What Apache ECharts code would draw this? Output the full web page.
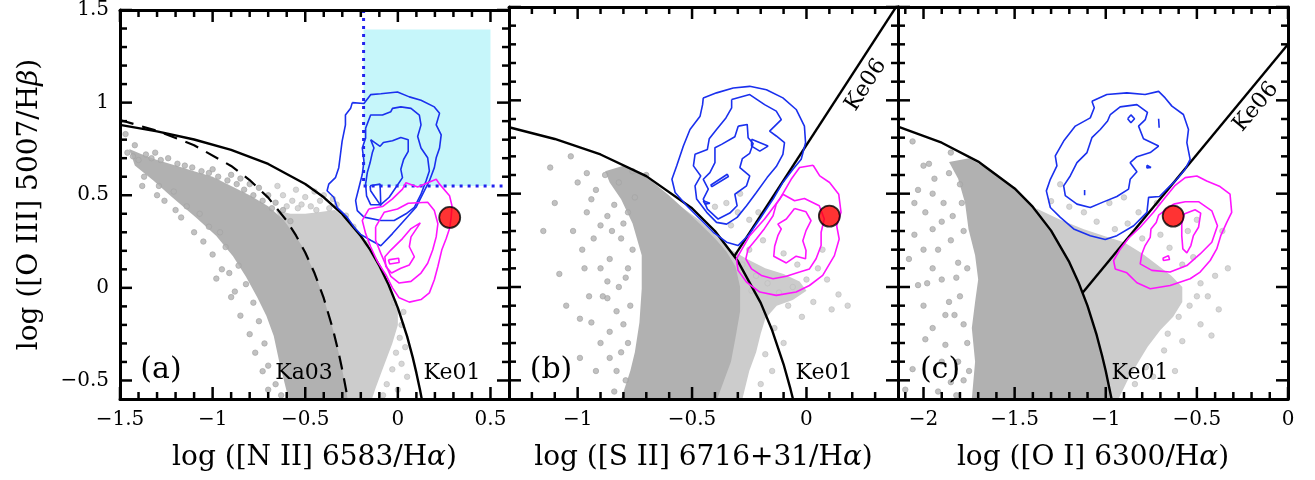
<!DOCTYPE html>
<html>
<head>
<meta charset="utf-8">
<script src="https://cdn.jsdelivr.net/npm/echarts@6/dist/echarts.min.js"></script>
<style>
html,body{margin:0;padding:0;background:#fff;}
#chart{width:1315px;height:480px;}
</style>
</head>
<body>
<div id="chart"></div>
<script>
// ---- axes ----
var xRangeA = [-1.5, 0.6], xRangeB = [-1.3, 0.4], xRangeC = [-2.14, 0];
var yRange = [-0.6, 1.5];
var xTicksA = [-1.5, -1, -0.5, 0, 0.5];
var xTicksB = [-1, -0.5, 0];
var xTicksC = [-2, -1.5, -1, -0.5, 0];
var yTicks = [-0.5, 0, 0.5, 1, 1.5];

// ---- demarcation lines ----
var ke01A = [[-1.5,0.880],[-1.3,0.845],[-1.1,0.801],[-0.9,0.745],[-0.7,0.669],[-0.5,0.561],[-0.4,0.489],[-0.3,0.398],[-0.2,0.280],[-0.15,0.206],[-0.1,0.120],[-0.05,0.017],[0.0,-0.108],[0.05,-0.262],[0.08,-0.374],[0.1,-0.459],[0.12,-0.553],[0.129,-0.6]];
var ka03A = [[-1.5,0.906],[-1.3,0.848],[-1.1,0.770],[-0.9,0.658],[-0.8,0.582],[-0.7,0.487],[-0.6,0.362],[-0.55,0.283],[-0.5,0.191],[-0.45,0.080],[-0.4,-0.056],[-0.35,-0.225],[-0.32,-0.349],[-0.3,-0.443],[-0.28,-0.548],[-0.271,-0.6]];
var ke01B = [[-1.3,0.856],[-1.1,0.793],[-0.9,0.710],[-0.7,0.594],[-0.5,0.422],[-0.4,0.300],[-0.3,0.139],[-0.2,-0.085],[-0.15,-0.232],[-0.1,-0.414],[-0.07,-0.546],[-0.059,-0.6]];
var ke06B = [[-0.315,0.165],[0.4,1.516]];
var ke01C = [[-2.14,0.859],[-1.9,0.773],[-1.7,0.672],[-1.5,0.528],[-1.4,0.429],[-1.3,0.302],[-1.2,0.133],[-1.15,0.026],[-1.1,-0.101],[-1.05,-0.257],[-1.02,-0.368],[-1.0,-0.450],[-0.968,-0.6]];
var ke06C = [[-1.126,-0.029],[0,1.30]];

// ---- selection box in (a) ----
var boxA = [[-0.185,0.55],[0.5,0.55],[0.5,1.395],[-0.185,1.395]];
var guideA = [[-0.185,1.5],[-0.185,0.55],[0.565,0.55]];

// ---- the galaxy of interest ----
var redA = [[0.28,0.38]], redB = [[0.10,0.38]], redC = [[-0.63,0.38]];

// ---- dense parent-sample regions ----
var darkA = [[-1.45,0.75],[-1.38,0.72],[-1.30,0.69],[-1.20,0.66],[-1.10,0.63],[-1.00,0.60],[-0.90,0.55],[-0.80,0.50],[-0.70,0.44],[-0.62,0.37],[-0.56,0.29],[-0.52,0.23],[-0.5,0.191],[-0.45,0.080],[-0.4,-0.056],[-0.35,-0.225],[-0.32,-0.349],[-0.3,-0.443],[-0.28,-0.548],[-0.271,-0.6],[-0.59,-0.6],[-0.62,-0.48],[-0.64,-0.40],[-0.67,-0.26],[-0.71,-0.15],[-0.76,-0.05],[-0.82,0.06],[-0.89,0.17],[-0.98,0.28],[-1.09,0.38],[-1.22,0.49],[-1.32,0.58],[-1.42,0.66]];
var lightA = [[-0.66,0.42],[-0.58,0.40],[-0.50,0.40],[-0.42,0.41],[-0.34,0.42],[-0.28,0.37],[-0.2,0.275],[-0.15,0.2],[-0.1,0.12],[-0.05,0.017],[0.0,-0.108],[0.0,-0.2],[-0.03,-0.3],[-0.06,-0.38],[-0.09,-0.46],[-0.12,-0.54],[-0.14,-0.6],[-0.30,-0.6],[-0.40,-0.1],[-0.50,0.15],[-0.60,0.30]];
var darkB = [[-0.88,0.62],[-0.80,0.65],[-0.74,0.62],[-0.68,0.57],[-0.60,0.49],[-0.52,0.40],[-0.45,0.32],[-0.40,0.26],[-0.35,0.19],[-0.31,0.11],[-0.29,0.0],[-0.29,-0.13],[-0.31,-0.27],[-0.33,-0.40],[-0.36,-0.5],[-0.39,-0.6],[-0.81,-0.6],[-0.77,-0.45],[-0.75,-0.35],[-0.73,-0.19],[-0.72,-0.01],[-0.72,0.17],[-0.76,0.34],[-0.81,0.47],[-0.86,0.56]];
var lightB = [[-0.56,0.44],[-0.47,0.36],[-0.40,0.28],[-0.33,0.20],[-0.26,0.15],[-0.18,0.10],[-0.10,0.07],[-0.03,0.03],[0.0,-0.02],[-0.06,-0.07],[-0.13,-0.10],[-0.18,-0.17],[-0.20,-0.25],[-0.22,-0.35],[-0.25,-0.45],[-0.28,-0.6],[-0.45,-0.6],[-0.32,-0.2],[-0.30,0.0]];
var darkC = [[-1.86,0.67],[-1.75,0.69],[-1.6,0.607],[-1.5,0.528],[-1.4,0.429],[-1.3,0.302],[-1.2,0.133],[-1.15,0.026],[-1.1,-0.101],[-1.05,-0.257],[-1.0,-0.45],[-0.968,-0.6],[-1.735,-0.6],[-1.717,-0.4],[-1.735,-0.22],[-1.717,-0.08],[-1.70,0.04],[-1.717,0.17],[-1.753,0.31],[-1.772,0.45],[-1.81,0.58]];
var lightC = [[-1.38,0.42],[-1.25,0.36],[-1.12,0.31],[-1.0,0.27],[-0.9,0.24],[-0.8,0.18],[-0.72,0.12],[-0.64,0.06],[-0.58,0.0],[-0.58,-0.08],[-0.63,-0.16],[-0.70,-0.23],[-0.77,-0.32],[-0.82,-0.40],[-0.88,-0.5],[-0.93,-0.6],[-0.968,-0.6],[-1.0,-0.45],[-1.05,-0.257],[-1.1,-0.101],[-1.2,0.133],[-1.3,0.302],[-1.38,0.41]];

// ---- scattered individual galaxies ----
var dotsDarkA = [[-1.47,0.83],[-1.46,0.73],[-1.43,0.71],[-1.40,0.69],[-1.36,0.72],[-1.33,0.70],[-1.28,0.69],[-1.24,0.70],[-1.19,0.67],[-1.15,0.66],[-1.11,0.65],[-1.06,0.63],[-1.02,0.62],[-0.97,0.60],[-0.92,0.58],[-0.87,0.56],[-0.83,0.53],[-0.78,0.50],[-0.73,0.47],[-0.68,0.43],[-1.37,0.60],[-1.29,0.55],[-1.21,0.52],[-1.26,0.47],[-1.14,0.44],[-1.07,0.40],[-1.02,0.33],[-0.96,0.30],[-0.93,0.22],[-0.86,0.12],[-0.82,0.02],[-0.78,-0.08],[-0.75,-0.18],[-0.72,-0.30],[-0.70,-0.42],[-0.66,-0.52],[-0.63,-0.58],[-1.17,0.38],[-0.91,0.08],[-0.88,-0.02],[-1.38,0.55],[-1.30,0.50],[-1.20,0.42],[-1.10,0.30],[-1.00,0.18],[-0.95,0.10],[-0.90,-0.05],[-0.85,-0.15],[-0.80,-0.25],[-0.77,-0.35],[-0.73,-0.45],[-0.70,-0.55],[-1.05,0.25],[-0.98,0.05],[-1.00,0.64],[-0.90,0.61],[-0.80,0.56],[-0.70,0.50],[-0.62,0.42],[-0.58,0.36],[-0.75,0.54],[-0.85,0.59],[-0.66,0.46],[-1.42,0.77],[-1.31,0.73]];
var dotsLightA = [[-0.62,0.50],[-0.57,0.47],[-0.52,0.45],[-0.47,0.44],[-0.42,0.47],[-0.37,0.43],[-0.33,0.45],[-0.45,0.52],[-0.55,0.53],[-0.65,0.55],[-0.40,0.50],[-0.50,0.49],[-0.28,0.39],[-0.60,0.44],[0.02,-0.20],[0.01,-0.27],[-0.01,-0.35],[0.04,-0.32],[-0.03,-0.44],[0.02,-0.41],[-0.06,-0.52],[0.00,-0.55],[-0.08,-0.58],[0.03,-0.13],[-0.02,-0.08],[0.05,-0.48],[-0.35,0.48],[-0.44,0.42],[-0.54,0.43],[-0.24,0.33],[-0.17,0.24]];
var dotsDarkB = [[-1.08,0.07],[-0.99,-0.17],[-0.94,-0.19],[-0.93,0.26],[-0.86,0.15],[-0.87,0.03],[-0.89,-0.05],[-0.83,-0.13],[-0.86,-0.24],[-0.81,-0.35],[-0.99,-0.38],[-0.92,-0.45],[-1.03,0.70],[-1.0,0.56],[-0.96,0.61],[-0.92,0.52],[-0.87,0.38],[-0.81,0.26],[-0.78,0.10],[-0.94,0.47],[-0.90,0.33],[-0.87,-0.06],[-1.12,0.64],[-0.96,0.40],[-0.84,0.44],[-0.79,-0.50],[-0.84,-0.56],[-1.05,-0.10],[-0.98,0.20],[-0.82,0.56],[-0.76,0.62],[-0.70,0.60],[-1.02,0.30],[-0.97,0.10],[-0.95,-0.05],[-0.90,-0.30],[-0.88,0.60],[-0.85,0.30],[-0.82,0.00],[-0.80,-0.20],[-0.78,-0.30],[-0.76,0.20],[-0.78,0.40],[-0.83,-0.45],[-0.90,0.10],[-1.10,0.45],[-1.15,0.30],[-0.86,-0.38],[-0.79,0.05],[-0.77,-0.10],[-0.75,0.48],[-0.80,0.34]];
var dotsLightB = [[-0.28,0.12],[-0.22,0.06],[-0.17,0.02],[-0.12,-0.03],[-0.06,0.0],[0.0,0.04],[-0.04,0.12],[-0.10,0.18],[0.05,0.10],[0.09,0.04],[0.14,-0.04],[0.11,-0.12],[0.03,-0.08],[-0.08,-0.10],[-0.14,-0.22],[-0.10,-0.30],[-0.18,-0.36],[-0.15,-0.45],[-0.20,-0.52],[-0.35,0.45],[-0.30,0.40],[-0.25,0.36],[-0.29,0.50],[-0.40,0.43],[-0.21,0.40],[-0.33,0.33],[-0.19,0.25],[-0.25,0.20],[0.07,0.20],[0.18,-0.10],[-0.02,-0.16],[-0.24,-0.02]];
var dotsDarkC = [[-2.06,0.78],[-2.03,0.52],[-1.99,0.40],[-2.05,0.28],[-2.03,0.01],[-1.95,0.31],[-1.92,0.20],[-1.90,0.04],[-1.86,-0.08],[-1.95,-0.22],[-1.99,-0.28],[-1.88,-0.31],[-1.83,-0.15],[-1.81,-0.40],[-1.85,-0.51],[-2.06,-0.44],[-1.94,0.58],[-1.86,0.61],[-1.80,0.55],[-2.08,0.15],[-1.81,0.13],[-1.89,0.45],[-1.97,0.66],[-2.10,-0.55],[-1.78,0.30],[-1.92,-0.56],[-1.85,0.72],[-2.00,0.65],[-1.95,0.50],[-1.90,0.35],[-1.85,0.25],[-1.82,0.05],[-1.80,-0.05],[-1.78,-0.20],[-1.76,-0.30],[-1.78,-0.50],[-1.90,-0.40],[-2.00,-0.10],[-2.05,0.45],[-1.95,0.10],[-1.84,0.38],[-1.79,0.45],[-1.76,0.10],[-1.75,-0.45],[-1.82,-0.58],[-2.00,0.20],[-1.88,-0.15],[-1.98,0.02]];
var dotsLightC = [[-1.05,0.35],[-0.95,0.31],[-0.88,0.34],[-1.20,0.43],[-1.30,0.46],[-1.12,0.40],[-0.80,0.26],[-0.70,0.28],[-0.65,0.21],[-0.58,0.12],[-0.52,0.16],[-0.48,0.02],[-0.44,-0.05],[-0.40,0.06],[-0.38,-0.12],[-0.48,-0.20],[-0.58,-0.29],[-0.68,-0.34],[-0.78,-0.43],[-0.84,-0.52],[-0.74,-0.48],[-0.55,0.30],[-0.50,0.36],[-0.72,0.45],[-0.82,0.40],[-0.36,0.30],[-0.60,-0.16],[-0.42,-0.26],[-0.98,0.45],[-1.25,0.55],[-0.9,0.48],[-0.33,0.1],[-0.62,-0.45],[-0.54,-0.10],[-0.50,-0.05],[-0.66,-0.25]];

// ---- contours: Seyferts (blue) and LINERs (magenta) ----
var blueA1 = [[-0.246,1.000],[-0.183,0.995],[-0.147,1.043],[-0.092,1.048],[-0.002,1.057],[0.062,1.031],[0.125,1.013],[0.197,0.977],[0.225,0.942],[0.207,0.880],[0.234,0.826],[0.225,0.755],[0.207,0.702],[0.197,0.649],[0.170,0.577],[0.134,0.506],[0.098,0.435],[0.034,0.364],[-0.029,0.293],[-0.092,0.227],[-0.147,0.257],[-0.201,0.289],[-0.237,0.329],[-0.274,0.382],[-0.328,0.435],[-0.346,0.489],[-0.382,0.524],[-0.373,0.560],[-0.337,0.595],[-0.319,0.649],[-0.310,0.720],[-0.301,0.791],[-0.283,0.880],[-0.283,0.933],[-0.255,0.969]];
var blueA2 = [[-0.174,0.862],[-0.147,0.933],[-0.083,0.933],[-0.038,0.951],[-0.029,0.969],[0.016,0.977],[0.071,0.969],[0.116,0.933],[0.125,0.880],[0.107,0.817],[0.125,0.755],[0.161,0.702],[0.170,0.631],[0.152,0.577],[0.125,0.506],[0.089,0.435],[0.044,0.400],[-0.020,0.364],[-0.092,0.364],[-0.183,0.382],[-0.219,0.417],[-0.228,0.471],[-0.210,0.542],[-0.192,0.613],[-0.183,0.684],[-0.192,0.755],[-0.174,0.809]];
var blueA3 = [[-0.147,0.800],[-0.096,0.764],[-0.078,0.785],[-0.029,0.794],[0.016,0.812],[0.056,0.800],[0.056,0.737],[0.031,0.693],[0.016,0.640],[0.025,0.595],[-0.011,0.542],[-0.047,0.489],[-0.092,0.449],[-0.147,0.449],[-0.169,0.497],[-0.174,0.560],[-0.165,0.622],[-0.150,0.675],[-0.138,0.729],[-0.129,0.755]];
var blueA4 = [[-0.150,0.551],[-0.096,0.560],[-0.092,0.444],[-0.125,0.492],[-0.147,0.524]];
var magA1 = [[-0.156,0.426],[-0.083,0.439],[-0.029,0.480],[0.025,0.533],[0.044,0.568],[0.107,0.545],[0.161,0.568],[0.207,0.586],[0.225,0.560],[0.279,0.497],[0.292,0.444],[0.288,0.382],[0.279,0.320],[0.261,0.266],[0.237,0.204],[0.216,0.115],[0.197,0.044],[0.170,-0.027],[0.125,-0.063],[0.062,-0.077],[0.007,-0.054],[-0.029,0.0],[-0.065,0.071],[-0.110,0.142],[-0.147,0.222],[-0.174,0.293],[-0.192,0.364]];
var magA2 = [[-0.120,0.329],[-0.074,0.408],[-0.002,0.426],[0.056,0.457],[0.161,0.462],[0.197,0.417],[0.216,0.346],[0.207,0.275],[0.188,0.204],[0.161,0.133],[0.125,0.080],[0.071,0.035],[0.007,0.026],[-0.038,0.062],[-0.065,0.124],[-0.092,0.186],[-0.120,0.257]];
var magA3 = [[-0.038,0.204],[0.025,0.266],[0.071,0.320],[0.121,0.351],[0.107,0.329],[0.071,0.275],[0.062,0.222],[0.089,0.168],[0.062,0.124],[0.016,0.106],[-0.034,0.080],[-0.065,0.115],[-0.070,0.168]];
var magA4 = [[-0.051,0.151],[0.004,0.160],[0.007,0.137],[-0.044,0.129]];

var blueB1 = [[-0.451,1.013],[-0.393,1.040],[-0.320,1.066],[-0.248,1.075],[-0.175,1.057],[-0.103,1.013],[-0.045,0.951],[-0.009,0.862],[-0.004,0.773],[-0.023,0.684],[-0.059,0.631],[-0.103,0.560],[-0.146,0.471],[-0.204,0.364],[-0.255,0.275],[-0.299,0.222],[-0.349,0.240],[-0.407,0.293],[-0.465,0.364],[-0.523,0.435],[-0.574,0.506],[-0.588,0.577],[-0.567,0.649],[-0.538,0.755],[-0.509,0.844],[-0.465,0.915],[-0.454,0.977]];
var blueB2 = [[-0.327,1.004],[-0.248,1.031],[-0.183,0.977],[-0.132,0.942],[-0.110,0.897],[-0.161,0.835],[-0.132,0.809],[-0.096,0.773],[-0.103,0.711],[-0.132,0.645],[-0.172,0.586],[-0.219,0.506],[-0.262,0.435],[-0.303,0.373],[-0.349,0.337],[-0.393,0.346],[-0.436,0.400],[-0.480,0.471],[-0.487,0.542],[-0.462,0.595],[-0.494,0.649],[-0.487,0.711],[-0.433,0.737],[-0.425,0.794],[-0.393,0.844],[-0.352,0.906],[-0.327,0.960]];
var blueB3 = [[-0.298,0.862],[-0.259,0.871],[-0.255,0.800],[-0.233,0.769],[-0.248,0.716],[-0.280,0.688],[-0.291,0.640],[-0.248,0.595],[-0.262,0.542],[-0.313,0.497],[-0.303,0.435],[-0.335,0.396],[-0.386,0.364],[-0.433,0.417],[-0.451,0.471],[-0.429,0.524],[-0.451,0.577],[-0.422,0.613],[-0.400,0.666],[-0.400,0.746],[-0.371,0.764],[-0.313,0.805]];
var blueB4 = [[-0.240,0.791],[-0.168,0.755],[-0.204,0.728],[-0.240,0.755]];
var blueB5 = [[-0.419,0.545],[-0.346,0.604],[-0.341,0.592],[-0.413,0.538]];
var blueB6 = [[-0.451,0.462],[-0.422,0.449],[-0.443,0.444]];
var magB1 = [[0.029,0.652],[0.058,0.595],[0.101,0.560],[0.141,0.497],[0.151,0.400],[0.132,0.328],[0.143,0.257],[0.122,0.168],[0.071,0.062],[0.013,0.008],[-0.045,-0.027],[-0.132,-0.045],[-0.204,-0.027],[-0.262,0.026],[-0.299,0.089],[-0.306,0.151],[-0.248,0.275],[-0.183,0.364],[-0.117,0.471],[-0.067,0.577],[-0.030,0.640]];
var magB2 = [[-0.103,0.497],[-0.052,0.462],[-0.009,0.474],[0.056,0.435],[0.078,0.364],[0.064,0.293],[0.064,0.222],[0.042,0.151],[0.013,0.097],[-0.030,0.080],[-0.088,0.058],[-0.146,0.044],[-0.197,0.062],[-0.240,0.097],[-0.265,0.151],[-0.255,0.204],[-0.219,0.257],[-0.183,0.314],[-0.146,0.382],[-0.132,0.444]];
var magB3 = [[-0.052,0.421],[-0.002,0.403],[0.020,0.355],[-0.002,0.302],[-0.016,0.248],[-0.002,0.195],[-0.004,0.151],[-0.045,0.165],[-0.088,0.129],[-0.143,0.165],[-0.139,0.218],[-0.125,0.275],[-0.110,0.311],[-0.125,0.337],[-0.088,0.364]];

var blueC1 = [[-1.076,0.995],[-0.994,1.031],[-0.884,1.040],[-0.784,1.031],[-0.710,1.048],[-0.674,1.013],[-0.637,0.969],[-0.574,0.924],[-0.546,0.844],[-0.555,0.773],[-0.537,0.684],[-0.564,0.631],[-0.610,0.577],[-0.665,0.524],[-0.705,0.485],[-0.765,0.480],[-0.774,0.400],[-0.847,0.328],[-0.939,0.275],[-1.003,0.254],[-1.085,0.275],[-1.176,0.311],[-1.249,0.373],[-1.304,0.426],[-1.326,0.515],[-1.304,0.577],[-1.268,0.649],[-1.277,0.702],[-1.231,0.782],[-1.167,0.862],[-1.085,0.906],[-1.063,0.960]];
var blueC2 = [[-0.975,0.924],[-0.921,0.965],[-0.829,0.977],[-0.771,0.936],[-0.783,0.897],[-0.820,0.862],[-0.793,0.794],[-0.710,0.755],[-0.756,0.720],[-0.829,0.698],[-0.866,0.666],[-0.829,0.617],[-0.866,0.577],[-0.875,0.524],[-0.939,0.485],[-1.012,0.456],[-1.085,0.426],[-1.158,0.444],[-1.222,0.489],[-1.231,0.542],[-1.195,0.595],[-1.158,0.666],[-1.103,0.720],[-1.076,0.800],[-1.030,0.844],[-0.990,0.889]];
var blueC3 = [[-0.880,0.901],[-0.862,0.922],[-0.842,0.901],[-0.862,0.880]];
var blueC4 = [[-0.774,0.652],[-0.752,0.640],[-0.774,0.638]];
var blueC5 = [[-1.116,0.520],[-1.116,0.492]];
var blueC6 = [[-0.710,0.901],[-0.707,0.853]];
var magC1 = [[-0.619,0.545],[-0.564,0.586],[-0.500,0.595],[-0.446,0.568],[-0.373,0.538],[-0.318,0.497],[-0.309,0.400],[-0.336,0.346],[-0.369,0.275],[-0.391,0.204],[-0.427,0.142],[-0.482,0.080],[-0.537,0.044],[-0.647,0.008],[-0.756,-0.009],[-0.829,0.023],[-0.884,0.076],[-0.948,0.097],[-0.957,0.142],[-0.920,0.204],[-0.875,0.261],[-0.811,0.320],[-0.738,0.400],[-0.674,0.480]];
var magC2 = [[-0.628,0.444],[-0.564,0.457],[-0.491,0.457],[-0.418,0.408],[-0.387,0.328],[-0.418,0.240],[-0.482,0.177],[-0.555,0.115],[-0.647,0.080],[-0.747,0.089],[-0.811,0.124],[-0.802,0.177],[-0.784,0.222],[-0.756,0.266],[-0.752,0.311],[-0.723,0.346],[-0.710,0.385]];
var magC3 = [[-0.570,0.391],[-0.510,0.414],[-0.479,0.396],[-0.491,0.320],[-0.519,0.275],[-0.533,0.222],[-0.555,0.183],[-0.577,0.204],[-0.583,0.275],[-0.583,0.337]];
var magC4 = [[-0.687,0.154],[-0.656,0.168],[-0.650,0.147],[-0.683,0.142]];

// ---- style ----
var FONT = '"DejaVu Serif", "Liberation Serif", serif';
var DARK = '#b1b1b1', LIGHT = '#cccccc';
var BLUE = '#1a30ee', MAG = '#ff14ff', CYAN = '#c6f6fa';

var grids = [
	{left: 120, top: 7, width: 389, height: 392},
	{left: 509, top: 7, width: 389, height: 392},
	{left: 898, top: 7, width: 390, height: 392}
];

function fmt(v) {
	return String(Math.round(v * 10) / 10).replace('-', '\u2212');
}
function minorOf(range, major) {
	var out = [];
	for (var k = Math.ceil(range[0] * 10 - 1e-6); k <= Math.floor(range[1] * 10 + 1e-6); k++) {
		var v = k / 10;
		var skip = major.some(function(m){ return Math.abs(m - v) < 1e-6; });
		if (!skip && Math.abs(v - range[0]) > 1e-6 && Math.abs(v - range[1]) > 1e-6) out.push(v);
	}
	return out;
}
function mkAxis(gi, pos, range, vals, withLabel) {
	return {
		type: 'value', gridIndex: gi, position: pos, min: range[0], max: range[1], z: 10,
		axisLine: {show: true, onZero: false, lineStyle: {color: '#000', width: 3}},
		axisTick: {show: false},
		axisLabel: {show: withLabel, customValues: vals, color: '#000', fontFamily: FONT, fontSize: 20, margin: 11, formatter: fmt},
		splitLine: {show: false}
	};
}

var xAxes = [], yAxes = [], series = [];
var xRanges = [xRangeA, xRangeB, xRangeC], xMajors = [xTicksA, xTicksB, xTicksC];
var xNames = ['log ([N II] 6583/H{g|α})', 'log ([S II] 6716+31/H{g|α})', 'log ([O I] 6300/H{g|α})'];
var titleStyle = {color: '#000', fontFamily: FONT, fontSize: 28, rich: {g: {fontFamily: FONT, fontSize: 28, fontStyle: 'italic', color: '#000'}}};

// inward ticks: short black bar symbols sitting on the frame, placed through the axes
function tickMarks(gi, pts, w, h, dx, dy) {
	return {type: 'scatter', xAxisIndex: gi * 2, yAxisIndex: gi * 2, z: 9, silent: true, clip: false,
		symbol: 'rect', symbolSize: [w, h], symbolOffset: [dx, dy],
		itemStyle: {color: '#000', opacity: 1}, data: pts};
}
function addTicks(gi, xr, xMaj) {
	var xMin = minorOf(xr, xMaj), yMin = minorOf(yRange, yTicks);
	var at = function(vals, fn){ return vals.map(fn); };
	series.push(
		tickMarks(gi, at(xMaj, function(v){ return [v, yRange[0]]; }), 2.5, 12, 0, -6),
		tickMarks(gi, at(xMaj, function(v){ return [v, yRange[1]]; }), 2.5, 12, 0, 6),
		tickMarks(gi, at(xMin, function(v){ return [v, yRange[0]]; }), 2.5, 7, 0, -3.5),
		tickMarks(gi, at(xMin, function(v){ return [v, yRange[1]]; }), 2.5, 7, 0, 3.5),
		tickMarks(gi, at(yTicks, function(v){ return [xr[0], v]; }), 12, 2.5, 6, 0),
		tickMarks(gi, at(yTicks, function(v){ return [xr[1], v]; }), 12, 2.5, -6, 0),
		tickMarks(gi, at(yMin, function(v){ return [xr[0], v]; }), 7, 2.5, 3.5, 0),
		tickMarks(gi, at(yMin, function(v){ return [xr[1], v]; }), 7, 2.5, -3.5, 0));
}

for (var i = 0; i < 3; i++) {
	var xr = xRanges[i], xm = xMajors[i];
	var bx = mkAxis(i, 'bottom', xr, xm, true);
	bx.name = xNames[i]; bx.nameLocation = 'middle'; bx.nameGap = 45; bx.nameTextStyle = titleStyle;
	xAxes.push(bx, mkAxis(i, 'top', xr, xm, false));
	var ly = mkAxis(i, 'left', yRange, yTicks, i === 0);
	if (i === 0) {
		ly.name = 'log ([O III] 5007/H{g|β})'; ly.nameLocation = 'middle'; ly.nameGap = 76; ly.nameTextStyle = titleStyle;
	}
	yAxes.push(ly, mkAxis(i, 'right', yRange, yTicks, false));
	addTicks(i, xr, xm);
}

function poly(gi, pts, color, z) {
	return {
		type: 'custom', xAxisIndex: gi * 2, yAxisIndex: gi * 2, z: z, silent: true, clip: true,
		data: pts,
		renderItem: function(params, api) {
			if (params.dataIndex !== 0) return null;
			return {type: 'polygon', shape: {points: pts.map(function(p){ return api.coord(p); })}, style: {fill: color}};
		}
	};
}
function dots(gi, pts, color, rim) {
	return {type: 'scatter', xAxisIndex: gi * 2, yAxisIndex: gi * 2, z: 2, silent: true, symbolSize: 5.5,
		itemStyle: {color: color, borderColor: rim, borderWidth: 0.8}, data: pts};
}
function curve(gi, pts, color, width, type, z, close) {
	return {type: 'line', xAxisIndex: gi * 2, yAxisIndex: gi * 2, z: z, silent: true, symbol: 'none', showSymbol: false,
		clip: true, lineStyle: {color: color, width: width, type: type || 'solid'},
		data: close ? pts.concat([pts[0]]) : pts};
}
function red(gi, pts) {
	return {type: 'scatter', xAxisIndex: gi * 2, yAxisIndex: gi * 2, z: 8, silent: true, symbolSize: 21,
		itemStyle: {color: '#ff0000', borderColor: '#000', borderWidth: 1.8}, data: pts};
}

// panel (a)
series.push(poly(0, boxA, CYAN, 1), poly(0, lightA, LIGHT, 1), poly(0, darkA, DARK, 1),
	dots(0, dotsLightA, LIGHT, '#bdbdbd'), dots(0, dotsDarkA, DARK, '#a2a2a2'),
	curve(0, guideA, '#2222ee', 3, [3, 5], 4),
	curve(0, ke01A, '#000', 2.4, 'solid', 5), curve(0, ka03A, '#000', 2.2, [14, 9], 5));
[blueA1, blueA2, blueA3, blueA4].forEach(function(c){ series.push(curve(0, c, BLUE, 1.6, 'solid', 6, true)); });
[magA1, magA2, magA3, magA4].forEach(function(c){ series.push(curve(0, c, MAG, 1.6, 'solid', 6, true)); });
series.push(red(0, redA));

// panel (b)
series.push(poly(1, lightB, LIGHT, 1), poly(1, darkB, DARK, 1),
	dots(1, dotsLightB, LIGHT, '#bdbdbd'), dots(1, dotsDarkB, DARK, '#a2a2a2'),
	curve(1, ke01B, '#000', 2.4, 'solid', 5), curve(1, ke06B, '#000', 2.4, 'solid', 5));
[blueB1, blueB2, blueB3, blueB4, blueB5, blueB6].forEach(function(c){ series.push(curve(1, c, BLUE, 1.6, 'solid', 6, true)); });
[magB1, magB2, magB3].forEach(function(c){ series.push(curve(1, c, MAG, 1.6, 'solid', 6, true)); });
series.push(red(1, redB));

// panel (c)
series.push(poly(2, lightC, LIGHT, 1), poly(2, darkC, DARK, 1),
	dots(2, dotsLightC, LIGHT, '#bdbdbd'), dots(2, dotsDarkC, DARK, '#a2a2a2'),
	curve(2, ke01C, '#000', 2.4, 'solid', 5), curve(2, ke06C, '#000', 2.4, 'solid', 5));
[blueC1, blueC2, blueC3, blueC4, blueC5, blueC6].forEach(function(c){ series.push(curve(2, c, BLUE, 1.6, 'solid', 6, true)); });
[magC1, magC2, magC3, magC4].forEach(function(c){ series.push(curve(2, c, MAG, 1.6, 'solid', 6, true)); });
series.push(red(2, redC));

function txt(s, x, y, size, rot) {
	return {type: 'text', x: x, y: y, rotation: rot || 0, z: 20, silent: true,
		style: {text: s, font: size + 'px ' + FONT, fill: '#000', align: 'center', verticalAlign: 'middle'}};
}
var labels = [
	txt('(a)', 161, 370, 30), txt('Ka03', 304, 373, 22), txt('Ke01', 452, 373, 22),
	txt('(b)', 551, 370, 30), txt('Ke01', 824, 373, 22), txt('Ke06', 866, 85, 22, 57 * Math.PI / 180),
	txt('(c)', 940, 370, 30), txt('Ke01', 1140, 373, 22), txt('Ke06', 1256, 107, 22, 50 * Math.PI / 180)
];

var chart = echarts.init(document.getElementById('chart'), null, {renderer: 'canvas'});
chart.setOption({
	backgroundColor: '#fff',
	animation: false,
	grid: grids,
	xAxis: xAxes,
	yAxis: yAxes,
	series: series,
	graphic: labels
});
</script>
</body>
</html>
